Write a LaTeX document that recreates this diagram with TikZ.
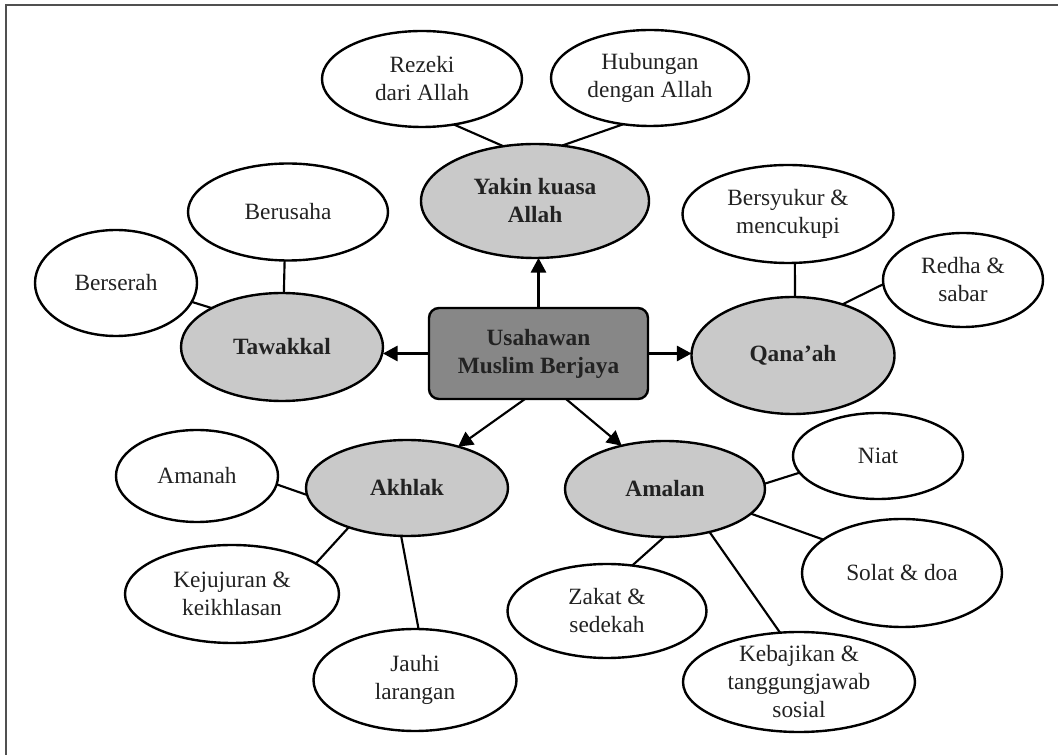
\documentclass[tikz,border=0pt]{standalone}
\usepackage{fontspec}
\setmainfont{Liberation Serif}
\usetikzlibrary{shapes.geometric,arrows.meta,calc}
\definecolor{txt}{HTML}{222222}
\definecolor{lgray}{HTML}{C9C9C9}
\definecolor{dgray}{HTML}{878787}
\definecolor{framec}{HTML}{505050}
\begin{document}
\begin{tikzpicture}[x=0.75pt,y=-0.75pt,
  every node/.style={font=\fontsize{17.5}{21}\selectfont, text=txt, align=center},
  sz/.style 2 args={minimum width=#1*0.75pt, minimum height=#2*0.75pt},
  leaf/.style={ellipse, draw=black, line width=1.8pt, fill=white, inner sep=0pt, outer sep=0pt},
  topic/.style={leaf, fill=lgray, font=\fontsize{17.5}{21}\selectfont\bfseries},
  centerbox/.style={rectangle, draw=black, line width=1.8pt, fill=dgray, rounded corners=7.5pt,
    inner sep=0pt, outer sep=0pt, font=\fontsize{17.5}{21}\selectfont\bfseries},
  link/.style={line width=1.6pt, draw=black},
  arr/.style={link, -{Triangle[length=11pt,width=11.5pt]}}]
\useasboundingbox (0,0) rectangle (1058,755);
\fill[white] (0,0) rectangle (1058,755);
\draw[framec, line width=1.3pt] (6,755) -- (6,5) -- (1058,5);

% central box
\node[centerbox, sz={219}{91}] (box) at (538.5,353.5) {Usahawan\\Muslim Berjaya};

% main topics
\node[topic, sz={228}{114}] (yakin) at (535,201) {Yakin kuasa\\Allah};
\node[topic, sz={202}{108}] (tawakkal) at (282,347) {Tawakkal};
\node[topic, sz={203}{117}] (qanaah) at (793,355.5) {Qana’ah};
\node[topic, sz={202}{96}] (akhlak) at (407,488) {Akhlak};
\node[topic, sz={200}{96}] (amalan) at (665,489) {Amalan};

% leaves
\node[leaf, sz={200}{96}] (rezeki) at (422,79) {Rezeki\\dari Allah};
\node[leaf, sz={198}{96}] (hub) at (650,78) {Hubungan\\dengan Allah};
\node[leaf, sz={200}{97}] (berusaha) at (288,212) {Berusaha};
\node[leaf, sz={162}{106}] (berserah) at (116,283) {Berserah};
\node[leaf, sz={211}{98}] (syukur) at (788,214) {Bersyukur \&\\mencukupi};
\node[leaf, sz={160}{94}] (redha) at (963,280) {Redha \&\\sabar};
\node[leaf, sz={162}{92}] (amanah) at (197,476) {Amanah};
\node[leaf, sz={214}{98}] (jujur) at (232,594) {Kejujuran \&\\keikhlasan};
\node[leaf, sz={203}{102}] (jauhi) at (415,680) {Jauhi\\larangan};
\node[leaf, sz={170}{86}] (niat) at (878,456) {Niat};
\node[leaf, sz={200}{108}] (solat) at (902,573) {Solat \& doa};
\node[leaf, sz={199}{94}] (zakat) at (607,611) {Zakat \&\\sedekah};
\node[leaf, sz={232}{100}] (kebajikan) at (799,682) {};
\node (kebtext) at (kebajikan.center) {Kebajikan \&\\tanggungjawab\\sosial};

% arrows from the centre
\draw[arr] (box.north) -- (box.north |- yakin.south);
\draw[arr] (box.west) -- (box.west -| tawakkal.east);
\draw[arr] (box.east) -- (box.east -| qanaah.west);
\draw[arr] ($(box.south)+(-13.5,0)$) -- (akhlak.39);
\draw[arr] ($(box.south)+(27.5,0)$) -- (amalan.135);

% links
\draw[link] (rezeki.-55) -- (yakin.120);
\draw[link] (hub.240.6) -- (yakin.64.3);
\draw[link] (berusaha.266) -- (tawakkal.88);
\draw[link] (berserah.-14) -- (tawakkal.151);
\draw[link] (syukur.278) -- (qanaah.88);
\draw[link] (redha.183.5) -- (qanaah.46.4);
\draw[link] (amanah.-6) -- (akhlak.184);
\draw[link] (jujur.20) -- (akhlak.214.6);
\draw[link] (akhlak.263) -- (jauhi.86.6);
\draw[link] (amalan.3.4) -- (niat.192.7);
\draw[link] (amalan.-16.5) -- (solat.157);
\draw[link] (amalan.-44.4) -- (kebajikan.111.8);
\draw[link] (amalan.269) -- (zakat.61);
\end{tikzpicture}
\end{document}
